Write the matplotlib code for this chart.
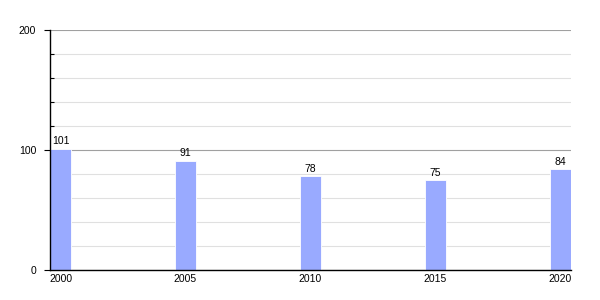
#!/usr/bin/env python3
"""Bar chart of values by year."""

import matplotlib
matplotlib.use("Agg")
import matplotlib.pyplot as plt
import numpy as np
from matplotlib.ticker import MultipleLocator

years = ["2000", "2005", "2010", "2015", "2020"]
values = [101, 91, 78, 75, 84]

plt.rcParams["font.family"] = ["Liberation Sans", "DejaVu Sans"]

fig = plt.figure(figsize=(6, 3), dpi=100)
ax = fig.add_axes([50 / 600, 0.1, 521 / 600, 0.8])

bar_w = 0.168
x = np.arange(len(years))
ax.bar(x, values, width=bar_w, align="edge", color="#99aaff", edgecolor="white",
       linewidth=0.6, zorder=3)
for xi, v in zip(x, values):
    ax.text(xi + bar_w / 2, v + 2, str(v), ha="center", va="bottom", fontsize=7.5, zorder=4)

ax.set_xlim(0, len(years) - 1 + bar_w)
ax.set_ylim(0, 200)
ax.set_xticks(x + bar_w / 2)
ax.set_xticklabels(years)
ax.yaxis.set_major_locator(MultipleLocator(100))
ax.yaxis.set_minor_locator(MultipleLocator(20))

ax.grid(True, which="major", axis="y", color="#a0a0a0", linewidth=0.8, zorder=1)
ax.grid(True, which="minor", axis="y", color="#e0e0e0", linewidth=0.8, zorder=0)

ax.tick_params(axis="x", length=0, pad=3, labelsize=7.5)
ax.tick_params(axis="y", which="major", length=4, width=0.8, direction="out", labelsize=7.5, pad=6)
ax.tick_params(axis="y", which="minor", length=3, width=0.8, direction="in")

for side in ("top", "right"):
    ax.spines[side].set_visible(False)
for side in ("left", "bottom"):
    ax.spines[side].set_linewidth(1)
    ax.spines[side].set_zorder(5)

fig.savefig("out.png", dpi=100)
